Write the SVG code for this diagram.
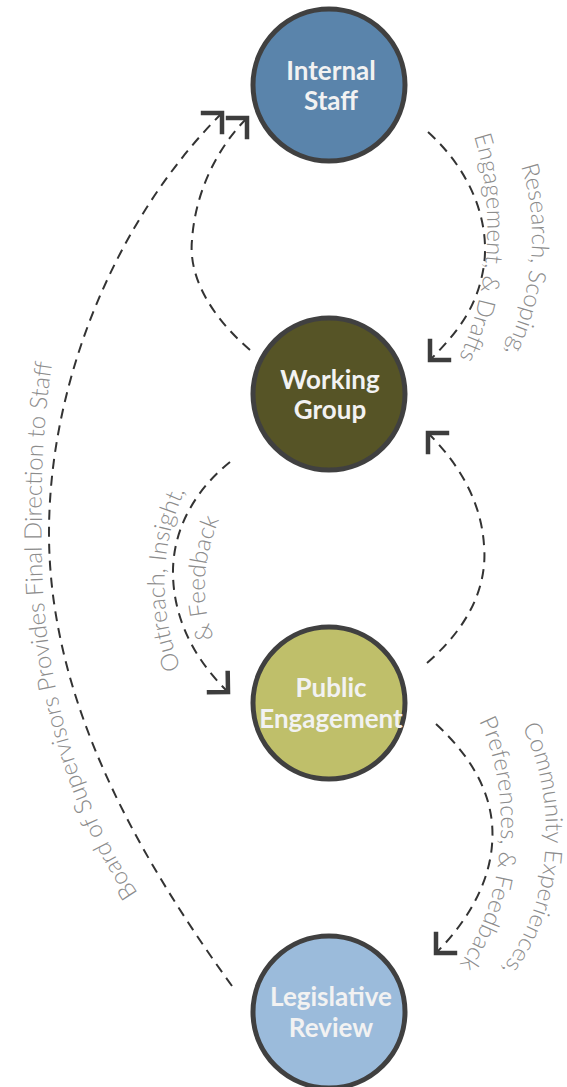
<svg xmlns="http://www.w3.org/2000/svg" width="567" height="1087" viewBox="0 0 567 1087">
<style>
.node circle{stroke:#404040;stroke-width:5}
.node text{font-family:Lato,"Liberation Sans",sans-serif;font-weight:700;font-size:26px;fill:#f2f2f2;text-anchor:middle}
.conn{fill:none;stroke:#333;stroke-width:2;stroke-dasharray:10 7}
.lbl{font-family:Lato,"Open Sans",sans-serif;font-weight:300;font-size:24px;fill:#8c8c8c}
</style>
<defs>
<marker id="ah" markerUnits="userSpaceOnUse" markerWidth="40" markerHeight="40" viewBox="-20 -20 40 40" refX="0" refY="0" orient="auto" overflow="visible">
<path d="M-15,-15 L0,0 L-15,15" fill="none" stroke="#3d3d3d" stroke-width="4.5" stroke-dasharray="none"/>
</marker>
<path id="t1a" d="M521,166 C 540,225 535,295 500,362"/>
<path id="t1b" d="M474,136 C 494,200 494,290 455,366"/>
<path id="t2a" d="M181,668 C 160,620 155,540 192,478"/>
<path id="t2b" d="M214,638 C 199,600 201,550 229,500"/>
<path id="t3a" d="M522,727 C 555,790 560,900 497,975"/>
<path id="t3b" d="M479,721 C 509,780 514,890 457,968"/>
<path id="t4" d="M138,893 C 88,820 44,700 42,560 C 40,470 44,400 58,330"/>
</defs>
<g id="connectors">
<path class="conn" marker-end="url(#ah)" d="M428,132 C 470,170 490,220 484,265 C 478,305 460,330 430,360"/>
<path class="conn" marker-end="url(#ah)" d="M250,350 C 215,320 188,280 192,240 C 195,195 215,150 247,118"/>
<path class="conn" marker-end="url(#ah)" d="M230,462 C 195,490 172,530 173,575 C 174,620 195,660 228,692"/>
<path class="conn" marker-end="url(#ah)" d="M427,663 C 465,630 488,590 484,545 C 481,500 458,463 428,433"/>
<path class="conn" marker-end="url(#ah)" d="M436,724 C 475,760 496,800 492,845 C 489,885 466,923 436,953"/>
<path class="conn" marker-end="url(#ah)" d="M232,986 C 130,845 49,693 49,533 C 49,380 117,218 222,113"/>
</g>
<g id="labels">
<text class="lbl"><textPath href="#t1a">Research, Scoping,</textPath></text>
<text class="lbl"><textPath href="#t1b">Engagement, &amp; Drafts</textPath></text>
<text class="lbl"><textPath href="#t2a">Outreach, Insight,</textPath></text>
<text class="lbl"><textPath href="#t2b">&amp; Feedback</textPath></text>
<text class="lbl"><textPath href="#t3a">Community Experiences,</textPath></text>
<text class="lbl"><textPath href="#t3b">Preferences, &amp; Feedback</textPath></text>
<text class="lbl"><textPath href="#t4">Board of Supervisors Provides Final Direction to Staff</textPath></text>
</g>
<g id="node-internal-staff" class="node">
<circle cx="329" cy="85" r="76" fill="#5a84ab"/>
<text x="331" y="80">Internal</text>
<text x="331" y="110">Staff</text>
</g>
<g id="node-working-group" class="node">
<circle cx="329" cy="394" r="76" fill="#565426"/>
<text x="330" y="389">Working</text>
<text x="330" y="419">Group</text>
</g>
<g id="node-public-engagement" class="node">
<circle cx="329" cy="703" r="76" fill="#bfbf6a"/>
<text x="331" y="697">Public</text>
<text x="331" y="728">Engagement</text>
</g>
<g id="node-legislative-review" class="node">
<circle cx="329" cy="1012" r="76" fill="#9bbbdb"/>
<text x="331" y="1006">Legislative</text>
<text x="331" y="1037">Review</text>
</g>
</svg>
